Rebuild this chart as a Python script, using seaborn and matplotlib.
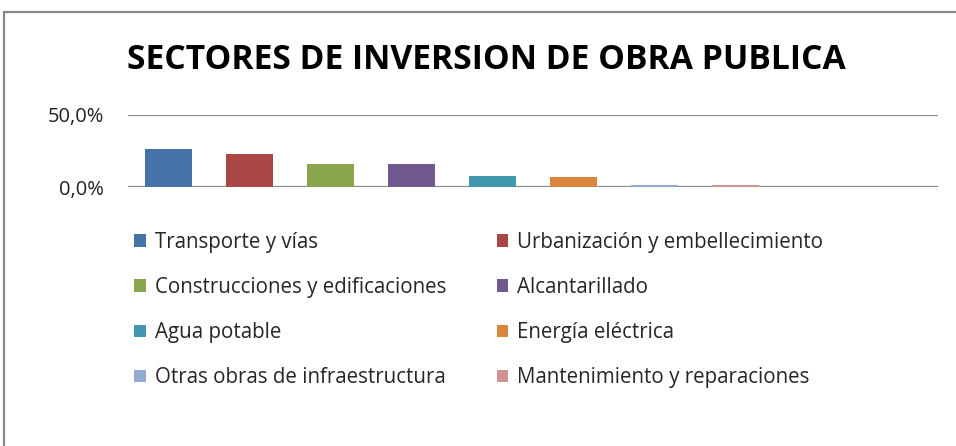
import numpy as np
import pandas as pd
import seaborn as sns
import matplotlib.pyplot as plt
from matplotlib.patches import Patch, Rectangle

sectores = ["Transporte y vías", "Urbanización y embellecimiento",
            "Construcciones y edificaciones", "Alcantarillado",
            "Agua potable", "Energía eléctrica",
            "Otras obras de infraestructura", "Mantenimiento y reparaciones"]
porcentajes = [0.262, 0.229, 0.158, 0.157, 0.074, 0.067, 0.013, 0.011]
colores = ["#4572A7", "#AA4643", "#89A54E", "#71588F",
           "#4198AF", "#DB843D", "#93A9CF", "#D19392"]
huecos = ["_vacio1", "_vacio2"]  # dos posiciones vacias al final del eje
ticks_y = [0.0, 0.5]
etiquetas_y = ["0,0%", "50,0%"]

df = pd.DataFrame({"sector": sectores, "valor": porcentajes})

sns.set_style("white")
plt.rcParams['font.family'] = ['Open Sans', 'DejaVu Sans']

fig = plt.figure(figsize=(9.56, 4.46), dpi=100)
ax = fig.add_axes([0.1339, 0.5807, 0.8473, 0.1615])

sns.barplot(data=df, x="sector", y="valor", hue="sector", order=sectores + huecos,
            palette=dict(zip(sectores, colores)), width=0.57, dodge=False,
            legend=False, ax=ax, saturation=1, linewidth=0)

ax.set_ylim(0, 0.5)
ax.set_xlim(-0.5, len(sectores) + len(huecos) - 0.5)
ax.set_yticks(ticks_y)
ax.set_yticklabels(etiquetas_y, fontsize=14.5, color="#222222")
ax.set_xticks([])
ax.set_xlabel("")
ax.set_ylabel("")
ax.tick_params(axis="y", length=0, pad=17.5)
ax.axhline(0.5, color="#8a8a8a", lw=1.6, zorder=0)
ax.axhline(0.0, color="#8a8a8a", lw=1.6, zorder=0.5)
for s in ax.spines.values():
    s.set_visible(False)

fig.text(0.509, 0.865, "SECTORES DE INVERSION DE OBRA PUBLICA", ha="center", va="center",
         fontsize=24.2, fontweight="bold", color="black")

# orden de leyenda por filas (dos columnas)
orden = [0, 2, 4, 6, 1, 3, 5, 7]
handles = [Patch(facecolor=colores[i], edgecolor="none") for i in orden]
labels = [sectores[i] for i in orden]
fig.legend(handles, labels, ncol=2, loc="upper left", bbox_to_anchor=(0.132, 0.499),
           frameon=False, fontsize=14.8, handlelength=0.57, handleheight=0.57,
           handletextpad=0.42, columnspacing=2.45, labelspacing=1.18, borderaxespad=0)

# borde exterior del grafico (solo arriba e izquierda visibles)
fig.patches.append(Rectangle((0.004, -0.1), 1.2, 1.073, transform=fig.transFigure,
                             fill=False, edgecolor="#888888", lw=1.6))

fig.savefig("out.png", dpi=100, facecolor="white")
